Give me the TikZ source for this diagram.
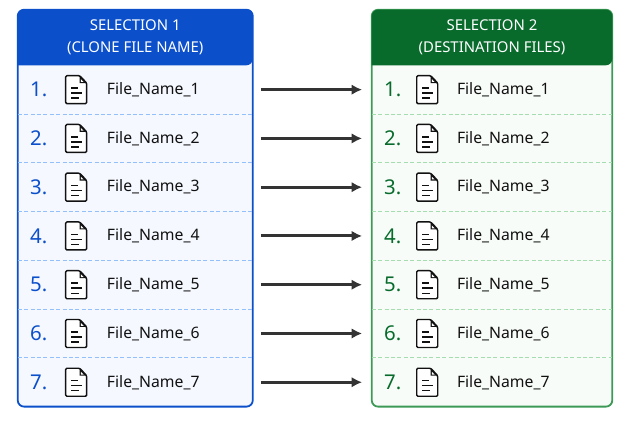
\documentclass[tikz,border=0pt]{standalone}
\usepackage{fontspec}
\setmainfont{Noto Sans}
\usetikzlibrary{arrows.meta,positioning,calc,backgrounds}
\definecolor{lmain}{HTML}{0B4FCB}
\definecolor{lfill}{HTML}{F5F8FF}
\definecolor{lsep}{HTML}{93C0FB}
\definecolor{rmain}{HTML}{086B2C}
\definecolor{redge}{HTML}{3C9A56}
\definecolor{rfill}{HTML}{F8FCF8}
\definecolor{rsep}{HTML}{A5DDAE}
\colorlet{ledge}{lmain}
\definecolor{inkc}{HTML}{111111}
\definecolor{arrowc}{HTML}{333333}

\begin{document}
\begin{tikzpicture}[
    x=0.25mm, y=-0.25mm,
    node distance=0mm,
    head/.style={rectangle, inner sep=0pt, align=center, text=white, minimum height=13.75mm,
                 font=\fontsize{10.6}{15.5}\selectfont\bfseries},
    row/.style={rectangle, inner sep=0pt, minimum height=12.05mm},
    num/.style={inner sep=0pt, font=\fontsize{14.5}{16}\selectfont\bfseries},
    fname/.style={inner sep=0pt, anchor=west, text=inkc, font=\fontsize{11.2}{14}\selectfont},
    panel/.style={line width=0.45mm, rounded corners=1.6mm},
    sep/.style={line width=0.2mm, dash pattern=on 1mm off 0.6mm},
    flow/.style={-{Latex[length=2.6mm,width=2.6mm]}, line width=0.75mm, draw=arrowc,
                 shorten <=2mm, shorten >=2.4mm},
    docicon/.pic={
        \draw[inkc, line width=0.36mm, line join=round, fill=white, rounded corners=0.3mm]
            (-10.5,-14) -- (3.5,-14) -- (10.5,-6.5) -- (10.5,14) -- (-10.5,14) -- cycle;
        \fill[inkc] (3.5,-14) -- (3.5,-6.5) -- (10.5,-6.5) -- cycle;
        \fill[white] (4.7,-10.5) -- (4.7,-7.7) -- (7.4,-7.7) -- cycle;
        \draw[inkc, line width=0.36mm] (-5,-1.5) -- (2,-1.5) (-5,3.5) -- (5.5,3.5) (-5,8.5) -- (2.5,8.5);
    }
]
\useasboundingbox (0,0) rectangle (640,427);

% the two lists
\foreach \s/\cx/\pw/\tone/\ttwo/\dx/\fx in {
    l/135.25/58.625mm/SELECTION 1/(CLONE FILE NAME)/58.5/89,
    r/492/60mm/SELECTION 2/(DESTINATION FILES)/55.5/85}{
    \node[head, minimum width=\pw] (\s head) at (\cx,37.5) {\tone\\\ttwo};
    \node[row, minimum width=\pw, below=of \s head] (\s row1) {};
    \foreach \i [remember=\i as \j (initially 1)] in {2,...,7}{
        \node[row, minimum width=\pw, below=of \s row\j] (\s row\i) {};
    }
    \foreach \i in {1,...,7}{
        \node[num, text=\s main] (\s num\i) at ($(\s row\i.west)+(21,0)$) {\i.};
        \pic (\s doc\i) at ($(\s row\i.west)+(\dx,0)$) {docicon};
        \node[fname] (\s file\i) at ($(\s row\i.west)+(\fx,0)$) {File\_Name\_\i};
    }
    \foreach \i in {1,...,6}{
        \draw[sep, draw=\s sep] (\s row\i.south west) -- (\s row\i.south east);
    }
    \begin{scope}[on background layer]
        \draw[panel, draw=\s edge, fill=\s fill] (\s head.north west) rectangle (\s row7.south east);
        \fill[\s main, rounded corners=1.6mm] (\s head.south west) -- (\s head.north west)
            -- (\s head.north east) -- (\s head.south east) [sharp corners] -- cycle;
    \end{scope}
}

% file to file
\foreach \i in {1,...,7}{
    \draw[flow] (lrow\i.east) -- (rrow\i.west);
}
\end{tikzpicture}
\end{document}
